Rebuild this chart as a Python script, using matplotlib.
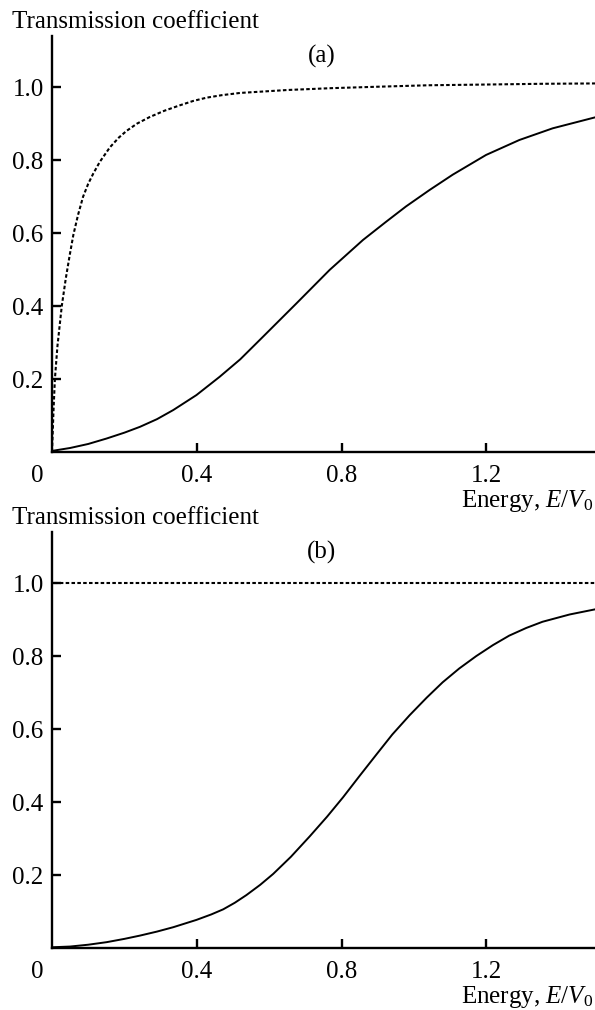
import matplotlib
matplotlib.use("Agg")
import matplotlib.pyplot as plt

plt.rcParams["font.family"] = ["Liberation Serif", "DejaVu Serif"]
plt.rcParams["font.size"] = 18
plt.rcParams["mathtext.fontset"] = "custom"
plt.rcParams["mathtext.rm"] = "Liberation Serif"
plt.rcParams["mathtext.it"] = "Liberation Serif:italic"

# panel (a): values
energy_a_dashed = [0, 0.004, 0.008, 0.015, 0.027, 0.038, 0.049, 0.059, 0.072, 0.086,
                   0.10, 0.114, 0.132, 0.16, 0.185, 0.206, 0.235, 0.27, 0.31, 0.353,
                   0.39, 0.427, 0.47, 0.52, 0.65, 0.77, 0.9, 1.04, 1.2, 1.35, 1.5]
trans_a_dashed = [0, 0.11, 0.20, 0.29, 0.40, 0.475, 0.54, 0.595, 0.65, 0.70,
                  0.735, 0.763, 0.795, 0.835, 0.862, 0.880, 0.900, 0.918, 0.935, 0.950,
                  0.962, 0.971, 0.978, 0.984, 0.992, 0.997, 1.001, 1.005, 1.007, 1.009, 1.01]
energy_a_solid = [0, 0.05, 0.10, 0.151, 0.2, 0.243, 0.29, 0.335, 0.399, 0.463, 0.52,
                  0.583, 0.675, 0.767, 0.859, 0.923, 0.978, 1.043, 1.107, 1.199, 1.291,
                  1.383, 1.5]
trans_a_solid = [0.003, 0.011, 0.022, 0.037, 0.053, 0.069, 0.09, 0.115, 0.156, 0.206, 0.254,
                 0.316, 0.407, 0.499, 0.581, 0.631, 0.673, 0.718, 0.760, 0.814, 0.855,
                 0.887, 0.917]

# panel (b)
energy_b_dashed = [0.005, 1.5]
trans_b_dashed = [1.0, 1.0]
energy_b_solid = [0, 0.05, 0.10, 0.151, 0.2, 0.243, 0.29, 0.335, 0.399, 0.44, 0.473,
                  0.505, 0.537, 0.575, 0.611, 0.66, 0.712, 0.76, 0.804, 0.85, 0.896,
                  0.94, 0.988, 1.035, 1.079, 1.125, 1.172, 1.218, 1.263, 1.31, 1.355,
                  1.43, 1.5]
trans_b_solid = [0.002, 0.004, 0.009, 0.016, 0.025, 0.034, 0.045, 0.057, 0.077, 0.092, 0.106,
                 0.124, 0.145, 0.173, 0.203, 0.250, 0.306, 0.36, 0.413, 0.472, 0.53,
                 0.585, 0.638, 0.686, 0.728, 0.766, 0.800, 0.830, 0.856, 0.877, 0.894,
                 0.914, 0.928]

x_ticks = [0.4, 0.8, 1.2]
y_ticks = [0.2, 0.4, 0.6, 0.8, 1.0]

W, H = 595, 1010


def setup_axes(ax, label):
    ax.set_xlim(0, 1.5)
    ax.set_ylim(0, 1.14)
    for s in ["top", "right"]:
        ax.spines[s].set_visible(False)
    for s in ["left", "bottom"]:
        ax.spines[s].set_linewidth(1.7)
    ax.set_xticks(x_ticks)
    ax.set_xticklabels([f"{t:.1f}" for t in x_ticks])
    ax.set_yticks(y_ticks)
    ax.set_yticklabels([f"{t:.1f}" for t in y_ticks])
    ax.tick_params(axis="both", direction="in", length=6.5, width=1.7)
    ax.tick_params(axis="x", pad=9.5)
    ax.tick_params(axis="y", pad=6)
    # the origin label sits left of the corner
    ax.annotate("0", xy=(0, 0), xycoords="axes fraction", xytext=(-10.8, -9.5),
                textcoords="offset points", ha="center", va="top")
    ax.text(0.745, 1.083, label, ha="center", va="center")


def main():
    fig = plt.figure(figsize=(W / 100, H / 100), dpi=100)
    ax1 = fig.add_axes([52 / W, 1 - 452 / H, 543 / W, 416 / H])
    ax2 = fig.add_axes([52 / W, 1 - 948 / H, 543 / W, 416 / H])

    ax1.plot(energy_a_dashed, trans_a_dashed, color="black", lw=1.5,
             linestyle=(0, (1.7, 1.1)))
    ax1.plot(energy_a_solid, trans_a_solid, color="black", lw=1.4)
    ax2.plot(energy_b_dashed, trans_b_dashed, color="black", lw=1.5,
             linestyle=(0, (1.7, 1.1)))
    ax2.plot(energy_b_solid, trans_b_solid, color="black", lw=1.4)

    setup_axes(ax1, "(a)")
    setup_axes(ax2, "(b)")

    for off in [0, 496]:
        fig.text(12 / W, 1 - (28 + off) / H, "Transmission coefficient",
                 ha="left", va="baseline")
        fig.text(593 / W, 1 - (507 + off) / H, "Energy, $E/V_0$",
                 ha="right", va="baseline")

    fig.savefig("out.png", dpi=100)


if __name__ == "__main__":
    main()
